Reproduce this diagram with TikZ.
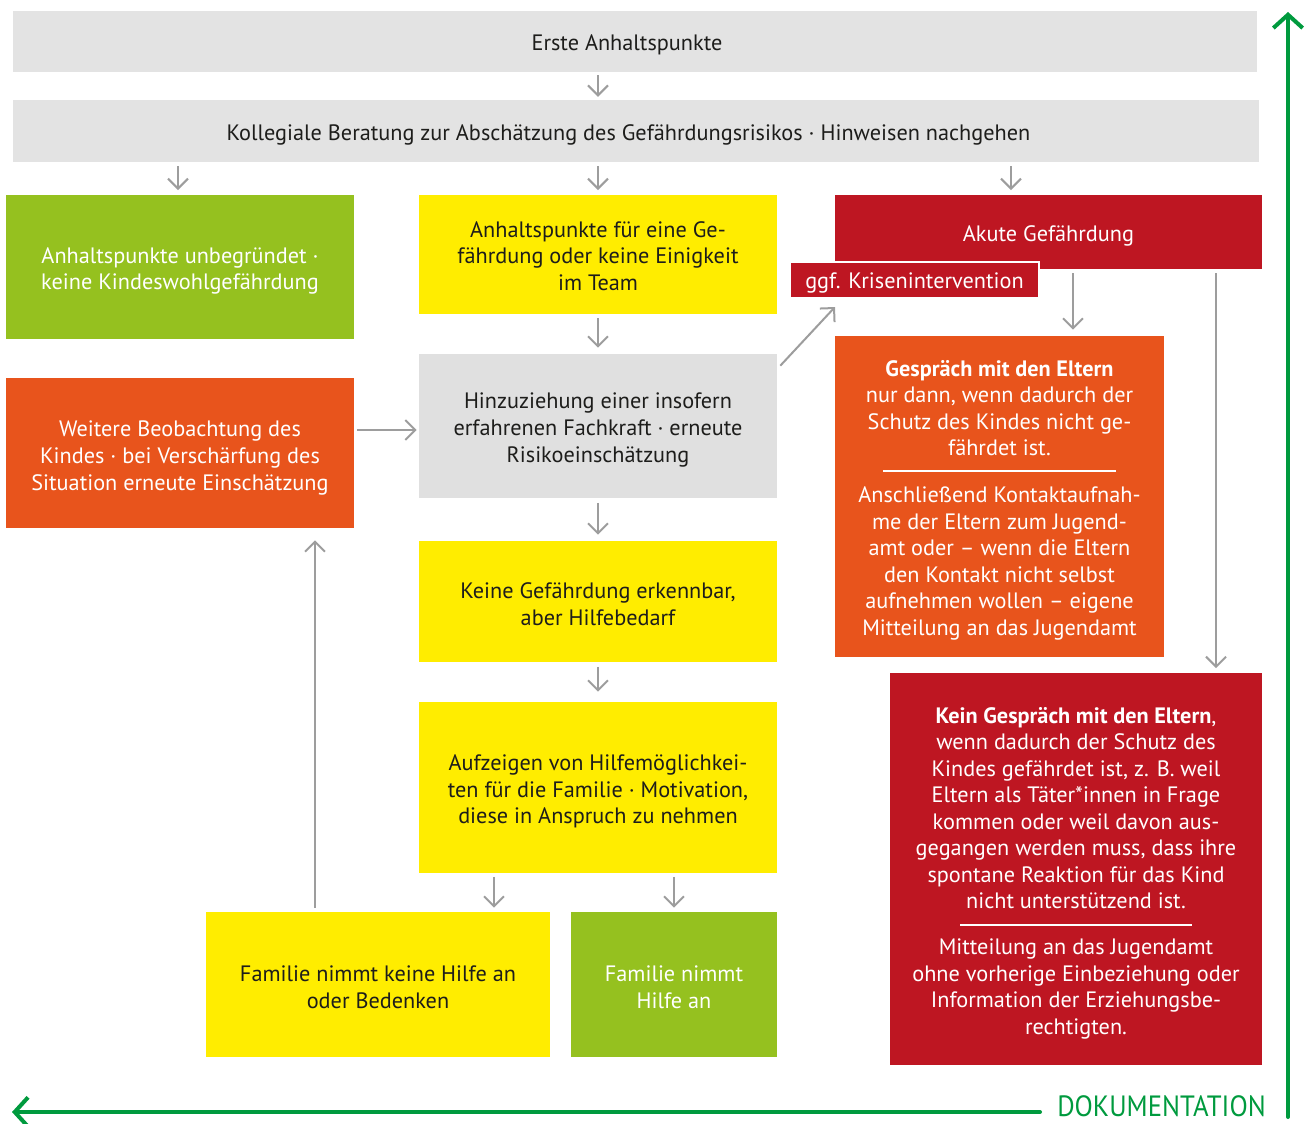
\documentclass[tikz,border=0pt]{standalone}
\usepackage{fontspec}
\setmainfont{PT Sans}
\usetikzlibrary{arrows.meta,calc}
\definecolor{boxgray}{HTML}{E3E3E3}
\definecolor{hgray}{HTML}{E0E0E0}
\definecolor{lgreen}{HTML}{95C11F}
\definecolor{yel}{HTML}{FFED00}
\definecolor{dred}{HTML}{BE1622}
\definecolor{orng}{HTML}{E8541C}
\definecolor{arrgray}{HTML}{9D9D9D}
\definecolor{docgreen}{HTML}{009A3E}
\definecolor{textdark}{HTML}{1D1D1B}
\begin{document}
\begin{tikzpicture}[x=0.75pt,y=-0.75pt,
  wh/.style 2 args={minimum width=#1*0.75pt, minimum height=#2*0.75pt},
  txt/.style={inner sep=0pt, align=center, font=\fontsize{16.7}{19.9}\selectfont, text=textdark},
  box/.style={inner sep=0pt, draw=none},
  wtxt/.style={txt, text=white},
  garr/.style={draw=arrgray, line width=1.5pt, -{Straight Barb[length=7.5pt,width=15pt]}},
  sep/.style={draw=white, line width=0.8pt},
  docline/.style={draw=docgreen, line width=3pt, line cap=round, -{Straight Barb[length=10pt,width=22pt]}}
]
\useasboundingbox (0,0) rectangle (1307,1124);

% top boxes
\node[box, fill=boxgray, wh={1244}{61}] (erste) at (635,41.5) {};
\node[txt] (ersteT) at (627,44.5) {Erste Anhaltspunkte};
\node[box, fill=boxgray, wh={1246}{62}] (koll) at (636,131) {};
\node[txt] (kollT) at (628.5,135) {Kollegiale Beratung zur Abschätzung des Gefährdungsrisikos · Hinweisen nachgehen};

% row 1
\node[box, fill=lgreen, wh={348}{144}] (unb) at (180,267) {};
\node[wtxt] (unbT) at (180,271) {Anhaltspunkte unbegründet ·\\keine Kindeswohlgefährdung};
\node[box, fill=yel, wh={358}{119}] (anh) at (598,254.5) {};
\node[txt] (anhT) at (598,256) {Anhaltspunkte für eine Ge-\\fährdung oder keine Einigkeit\\im Team};
\node[box, fill=dred, wh={427}{74}] (akut) at (1048.5,232) {};
\node[wtxt] (akutT) at (1048.5,236) {Akute Gefährdung};
\node[box, fill=dred, draw=white, line width=1.5pt, wh={249}{36}] (kris) at (914.5,280) {};
\node[wtxt] (krisT) at (914.5,283) {ggf. Krisenintervention};

% middle column
\node[box, fill=hgray, wh={358}{144}] (hinz) at (598,426) {};
\node[txt] (hinzT) at (598,430) {Hinzuziehung einer insofern\\erfahrenen Fachkraft · erneute\\Risikoeinschätzung};
\node[box, fill=orng, wh={348}{150}] (weit) at (180,453) {};
\node[wtxt] (weitT) at (180,458) {Weitere Beobachtung des\\Kindes · bei Verschärfung des\\Situation erneute Einschätzung};
\node[box, fill=yel, wh={358}{121}] (kgef) at (598,601.5) {};
\node[txt] (kgefT) at (598,604) {Keine Gefährdung erkennbar,\\aber Hilfebedarf};
\node[box, fill=yel, wh={358}{171}] (aufz) at (598,787.5) {};
\node[txt] (aufzT) at (598,791.5) {Aufzeigen von Hilfemöglichkei-\\ten für die Familie · Motivation,\\diese in Anspruch zu nehmen};
\node[box, fill=yel, wh={344}{145}] (famk) at (378,984.5) {};
\node[txt] (famkT) at (378,987.5) {Familie nimmt keine Hilfe an\\oder Bedenken};
\node[box, fill=lgreen, wh={206}{145}] (famn) at (674,984.5) {};
\node[wtxt] (famnT) at (674,987.5) {Familie nimmt\\Hilfe an};

% right column
\node[box, fill=orng, wh={329}{321}] (gesp) at (999.5,496.5) {};
\node[wtxt] (gesp1) at (999.5,408) {\textbf{Gespräch mit den Eltern}\\nur dann, wenn dadurch der\\Schutz des Kindes nicht ge-\\fährdet ist.};
\node[wtxt] (gesp2) at (999.5,563.5) {Anschließend Kontaktaufnah-\\me der Eltern zum Jugend-\\amt oder – wenn die Eltern\\den Kontakt nicht selbst\\aufnehmen wollen – eigene\\Mitteilung an das Jugendamt};
\draw[sep] (883,471) -- (1116,471);

\node[box, fill=dred, wh={372}{392}] (kein) at (1076,869) {};
\node[wtxt] (kein1) at (1076,808) {\textbf{Kein Gespräch mit den Eltern},\\wenn dadurch der Schutz des\\Kindes gefährdet ist, z. B. weil\\Eltern als Täter*innen in Frage\\kommen oder weil davon aus-\\gegangen werden muss, dass ihre\\spontane Reaktion für das Kind\\nicht unterstützend ist.};
\node[wtxt] (kein2) at (1076,989) {Mitteilung an das Jugendamt\\ohne vorherige Einbeziehung oder\\Information der Erziehungsbe-\\rechtigten.};
\draw[sep] (960,925) -- (1192,925);

% arrows
\draw[garr, shorten <=2.2pt, shorten >=2.2pt] (erste.south -| 598,0) -- (koll.north -| 598,0);
\draw[garr, shorten <=3pt, shorten >=3.5pt] (koll.south -| 178,0) -- (unb.north -| 178,0);
\draw[garr, shorten <=3pt, shorten >=3.5pt] (koll.south -| anh.north) -- (anh.north);
\draw[garr, shorten <=3pt, shorten >=3.5pt] (koll.south -| 1011,0) -- (akut.north -| 1011,0);
\draw[garr, shorten <=3pt, shorten >=4.5pt] (anh.south) -- (hinz.north);
\draw[garr, shorten <=3.5pt, shorten >=4.5pt] (hinz.south) -- (kgef.north);
\draw[garr, shorten <=3.5pt, shorten >=7.5pt] (kgef.south) -- (aufz.north);
\draw[garr, shorten <=3pt, shorten >=3pt] (aufz.south -| 494,0) -- (famk.north -| 494,0);
\draw[garr, shorten <=3pt, shorten >=3pt] (aufz.south -| famn.north) -- (famn.north);
\draw[garr, shorten <=2.2pt, shorten >=1.5pt] (weit.east |- 0,430) -- (hinz.west |- 0,430);
\draw[garr, shorten <=3pt, shorten >=9pt] (famk.north -| 315,0) -- (weit.south -| 315,0);
\draw[garr] ($(hinz.north east)+(3,12)$) -- ($(kris.south west)+(46,8)$);
\draw[garr, shorten <=3pt, shorten >=4.5pt] (akut.south -| 1073,0) -- (gesp.north -| 1073,0);
\draw[garr, shorten <=3pt, shorten >=3.5pt] (akut.south -| 1216,0) -- (kein.north -| 1216,0);

% documentation
\node[text=docgreen, font=\fontsize{22}{22}\selectfont, inner sep=0pt, anchor=base west, xscale=0.91] (dok) at (1057,1116) {DOKUMENTATION};
\draw[docline] (1288,1117) -- (1288,12);
\draw[docline] ($(dok.base west)+(-17,-4)$) -- (12,1112);
\end{tikzpicture}
\end{document}
